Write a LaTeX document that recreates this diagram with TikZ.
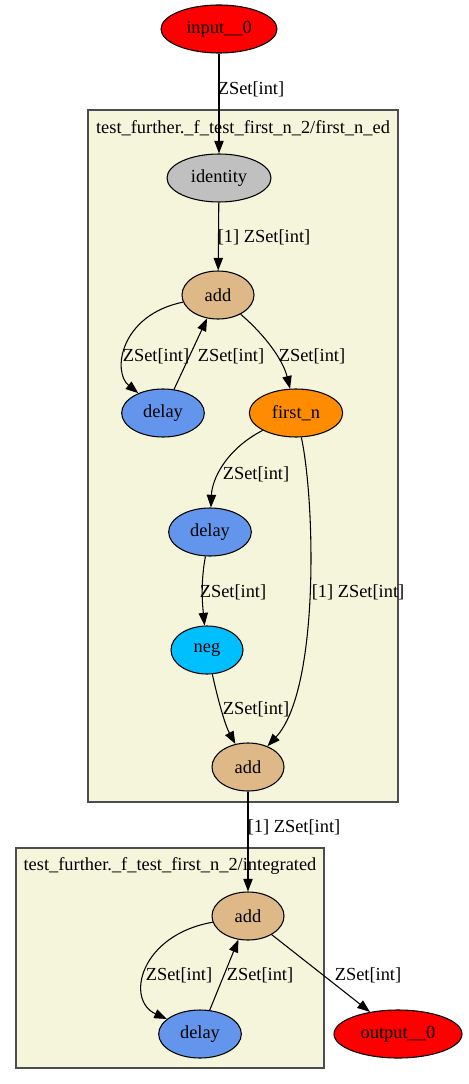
\documentclass[tikz,border=0pt]{standalone}
\usepackage{fontspec}
\setmainfont{Liberation Serif}
\usetikzlibrary{shapes.geometric,arrows.meta}
\definecolor{burly}{HTML}{DEB887}
\definecolor{cflower}{HTML}{6495ED}
\definecolor{dorange}{HTML}{FF8C00}
\definecolor{dsky}{HTML}{00BFFF}
\definecolor{beige}{HTML}{F5F5DC}
\definecolor{silverg}{HTML}{C0C0C0}
\definecolor{clborder}{HTML}{4D4D4D}
\tikzset{
  op/.style={ellipse,draw=black,line width=0.8pt,inner sep=0pt,minimum height=36pt,font=\fontsize{13.8}{16}\selectfont},
  cl/.style={draw=clborder,fill=beige,line width=1.1pt},
  edge/.style={draw=black,line width=0.8pt,-{Triangle[length=9.5pt,width=7pt]}},
  lbl/.style={font=\fontsize{13.8}{16}\selectfont,inner sep=0pt}
}
\begin{document}
\begin{tikzpicture}[x=0.75pt,y=-0.75pt]
\useasboundingbox (0,0) rectangle (468,1084);
% clusters
\draw[cl] (88,110) rectangle (398,802);
\draw[cl] (16,848) rectangle (324,1068);
\node[lbl] (t1) at (243,128) {test\_further.\_f\_test\_first\_n\_2/first\_n\_ed};
\node[lbl] (t2) at (170,866) {test\_further.\_f\_test\_first\_n\_2/integrated};
% nodes
\node[op,fill=red,minimum width=87pt] (in) at (219,29) {input\_\_0};
\node[op,fill=silverg,minimum width=78pt] (ident) at (219,178) {identity};
\node[op,fill=burly,minimum width=54pt] (add1) at (218,295) {add};
\node[op,fill=cflower,minimum width=62pt] (delay1) at (163,413) {delay};
\node[op,fill=dorange,minimum width=70pt] (firstn) at (296,413) {first\_n};
\node[op,fill=cflower,minimum width=62pt] (delay2) at (210,532) {delay};
\node[op,fill=dsky,minimum width=54pt] (neg) at (207,650) {neg};
\node[op,fill=burly,minimum width=54pt] (add2) at (248,767) {add};
\node[op,fill=burly,minimum width=54pt] (add3) at (248,916) {add};
\node[op,fill=cflower,minimum width=62pt] (delay3) at (200,1034) {delay};
\node[op,fill=red,minimum width=96pt] (out) at (398,1034) {output\_\_0};
% edges
\draw[edge] (in) -- (ident);
\draw[edge] (ident) -- (add1);
\draw[edge] (add1) .. controls (120,315) and (112,372) .. (delay1);
\draw[edge] (delay1) -- (add1);
\draw[edge] (add1) .. controls (265,335) and (283,360) .. (firstn);
\draw[edge] (firstn) .. controls (225,450) and (212,480) .. (delay2);
\draw[edge] (delay2) .. controls (201,580) and (202,600) .. (neg);
\draw[edge] (firstn) .. controls (315,500) and (320,690) .. (add2);
\draw[edge] (neg) .. controls (218,700) and (225,725) .. (add2);
\draw[edge] (add2) -- (add3);
\draw[edge] (add3) .. controls (140,935) and (125,1000) .. (delay3);
\draw[edge] (delay3) -- (add3);
\draw[edge] (add3) -- (out);
% edge labels
\node[lbl] (l1) at (251,89) {ZSet[int]};
\node[lbl] (l2) at (264,237) {[1] ZSet[int]};
\node[lbl] (l3) at (156,356) {ZSet[int]};
\node[lbl] (l4) at (231,356) {ZSet[int]};
\node[lbl] (l5) at (312,356) {ZSet[int]};
\node[lbl] (l6) at (256,474) {ZSet[int]};
\node[lbl] (l7) at (233,592) {ZSet[int]};
\node[lbl] (l8) at (358,592) {[1] ZSet[int]};
\node[lbl] (l9) at (256,709) {ZSet[int]};
\node[lbl] (l10) at (294,827) {[1] ZSet[int]};
\node[lbl] (l11) at (179,975) {ZSet[int]};
\node[lbl] (l12) at (260,975) {ZSet[int]};
\node[lbl] (l13) at (368,975) {ZSet[int]};
\end{tikzpicture}
\end{document}
